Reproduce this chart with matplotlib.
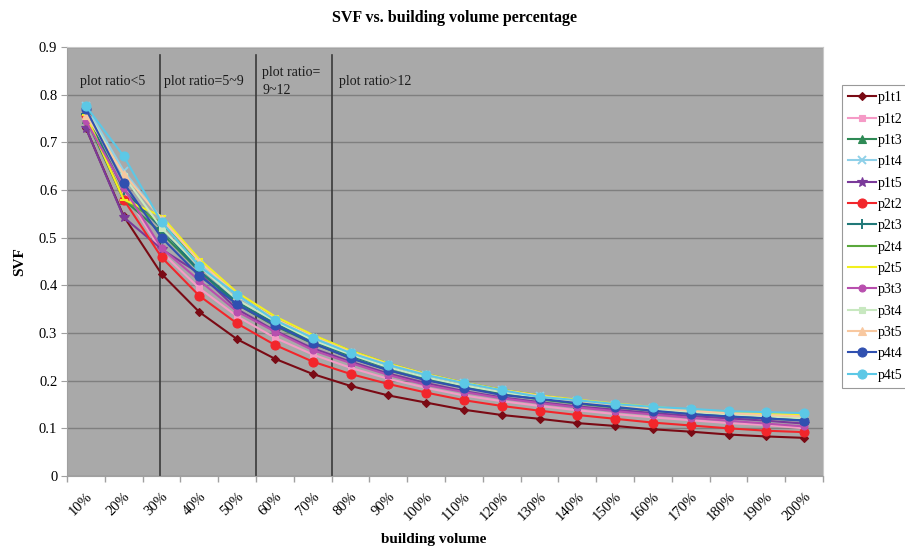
import matplotlib
matplotlib.use("Agg")
import matplotlib.pyplot as plt
from matplotlib.ticker import FixedLocator, NullFormatter

plt.rcParams['font.family'] = ['Liberation Serif', 'DejaVu Serif']

categories = ['10%', '20%', '30%', '40%', '50%', '60%', '70%', '80%', '90%', '100%',
              '110%', '120%', '130%', '140%', '150%', '160%', '170%', '180%', '190%', '200%']

p1t1 = [0.730, 0.545, 0.424, 0.344, 0.287, 0.246, 0.214, 0.189, 0.169, 0.154, 0.139, 0.128, 0.120, 0.111, 0.105, 0.098, 0.093, 0.087, 0.083, 0.080]
p1t2 = [0.750, 0.600, 0.470, 0.394, 0.335, 0.290, 0.255, 0.227, 0.204, 0.185, 0.169, 0.157, 0.147, 0.138, 0.130, 0.123, 0.117, 0.111, 0.107, 0.100]
p1t3 = [0.750, 0.580, 0.510, 0.430, 0.360, 0.315, 0.278, 0.248, 0.222, 0.202, 0.186, 0.172, 0.161, 0.152, 0.144, 0.137, 0.131, 0.125, 0.121, 0.117]
p1t4 = [0.776, 0.640, 0.540, 0.445, 0.378, 0.328, 0.290, 0.259, 0.233, 0.212, 0.195, 0.180, 0.168, 0.158, 0.150, 0.143, 0.138, 0.133, 0.130, 0.127]
p1t5 = [0.730, 0.543, 0.476, 0.425, 0.350, 0.305, 0.268, 0.240, 0.215, 0.195, 0.178, 0.165, 0.155, 0.146, 0.139, 0.132, 0.126, 0.121, 0.116, 0.110]
p2t2 = [0.757, 0.580, 0.459, 0.378, 0.320, 0.275, 0.240, 0.214, 0.193, 0.175, 0.159, 0.147, 0.137, 0.128, 0.120, 0.112, 0.106, 0.100, 0.095, 0.092]
p2t3 = [0.760, 0.600, 0.520, 0.430, 0.365, 0.320, 0.283, 0.252, 0.227, 0.206, 0.189, 0.175, 0.164, 0.155, 0.147, 0.140, 0.134, 0.128, 0.124, 0.120]
p2t4 = [0.757, 0.580, 0.530, 0.450, 0.383, 0.333, 0.295, 0.263, 0.236, 0.214, 0.196, 0.181, 0.169, 0.159, 0.151, 0.144, 0.138, 0.133, 0.129, 0.126]
p2t5 = [0.757, 0.580, 0.545, 0.455, 0.385, 0.335, 0.296, 0.263, 0.236, 0.214, 0.196, 0.181, 0.169, 0.160, 0.152, 0.145, 0.139, 0.134, 0.131, 0.128]
p3t3 = [0.745, 0.605, 0.478, 0.410, 0.345, 0.303, 0.264, 0.237, 0.212, 0.191, 0.176, 0.163, 0.153, 0.144, 0.136, 0.129, 0.122, 0.116, 0.110, 0.104]
p3t4 = [0.770, 0.630, 0.520, 0.440, 0.370, 0.325, 0.285, 0.255, 0.228, 0.207, 0.190, 0.176, 0.165, 0.155, 0.147, 0.140, 0.134, 0.129, 0.125, 0.121]
p3t5 = [0.757, 0.634, 0.540, 0.450, 0.380, 0.330, 0.292, 0.260, 0.234, 0.213, 0.195, 0.180, 0.168, 0.158, 0.150, 0.143, 0.137, 0.132, 0.128, 0.125]
p4t4 = [0.770, 0.615, 0.500, 0.420, 0.360, 0.317, 0.279, 0.247, 0.222, 0.201, 0.185, 0.170, 0.162, 0.153, 0.145, 0.137, 0.130, 0.125, 0.121, 0.116]
p4t5 = [0.776, 0.671, 0.533, 0.440, 0.380, 0.327, 0.290, 0.258, 0.233, 0.212, 0.195, 0.180, 0.166, 0.159, 0.151, 0.145, 0.141, 0.136, 0.134, 0.132]

series_names = ['p1t1', 'p1t2', 'p1t3', 'p1t4', 'p1t5', 'p2t2', 'p2t3', 'p2t4', 'p2t5',
                'p3t3', 'p3t4', 'p3t5', 'p4t4', 'p4t5']
series_values = [p1t1, p1t2, p1t3, p1t4, p1t5, p2t2, p2t3, p2t4, p2t5,
                 p3t3, p3t4, p3t5, p4t4, p4t5]
colors = ['#7A0A14', '#F59AC6', '#2E8A55', '#8FD0E8', '#7A3A9A', '#F2262B', '#207878',
          '#5AA83C', '#F2F01E', '#B84FAE', '#C8E8C0', '#F8C8A0', '#3050B0', '#5CC8E6']
markers = ['D', 's', '^', 'x', '*', 'o', '+', '_', '_', 'o', 's', '^', 'o', 'o']
msizes = [4.5, 5, 5.5, 6, 7, 6.5, 7, 6, 6, 5, 5, 5.5, 6.5, 6.5]

region_lines = [1.95, 4.5, 6.5]
region_labels = ['plot ratio<5', 'plot ratio=5~9', 'plot ratio=\n9~12', 'plot ratio>12']
region_label_x = [-0.15, 2.06, 4.67, 6.7]

fig = plt.figure(figsize=(9.05, 5.52), dpi=100)
ax = fig.add_axes([67/905, 76/552, 756/905, 429/552])
ax.set_facecolor('#A9A9A9')

x = list(range(len(categories)))
for name, vals, c, m, ms in zip(series_names, series_values, colors, markers, msizes):
    ax.plot(x, vals, color=c, marker=m, markersize=ms, linewidth=1.5,
            markeredgecolor=c, markeredgewidth=1.4 if m in ('x', '+', '_') else 0.8,
            label=name)

ax.set_xlim(-0.5, len(categories) - 0.5)
ax.set_ylim(0, 0.9)
ax.set_yticks([0, 0.1, 0.2, 0.3, 0.4, 0.5, 0.6, 0.7, 0.8, 0.9])
ax.set_yticklabels(['0', '0.1', '0.2', '0.3', '0.4', '0.5', '0.6', '0.7', '0.8', '0.9'], fontsize=10.5)
ax.yaxis.grid(True, color='#7F7F7F', linewidth=1.0)
ax.set_axisbelow(True)

ax.set_xticks(x)
ax.set_xticklabels(categories, rotation=45, ha='right', va='top', fontsize=10.5,
                   rotation_mode='anchor')
ax.tick_params(axis='x', which='major', length=0, pad=10)
ax.xaxis.set_minor_locator(FixedLocator([i - 0.5 for i in range(len(categories) + 1)]))
ax.xaxis.set_minor_formatter(NullFormatter())
ax.tick_params(axis='x', which='minor', length=4, color='#A0A0A0', width=1)
ax.tick_params(axis='y', length=4, color='#A0A0A0', pad=3)

for s in ['top', 'right']:
    ax.spines[s].set_color('#C8C8C8')
for s in ['left', 'bottom']:
    ax.spines[s].set_color('#A0A0A0')

for lx in region_lines:
    ax.plot([lx, lx], [0, 0.883], color='#3A3A3A', linewidth=1.2, zorder=1.5)

for lbl, lx in zip(region_labels, region_label_x):
    ax.text(lx, 0.827, lbl, fontsize=10, ha='left', va='center', color='#1A1A1A',
            linespacing=1.5)

fig.text(454/905, 1 - 18/552, 'SVF vs. building volume percentage', ha='center', va='center',
         fontsize=11.5, fontweight='bold')
fig.text(434/905, 1 - 540/552, 'building volume', ha='center', va='center',
         fontsize=11, fontweight='bold')
fig.text(20/905, 1 - 262/552, 'SVF', ha='center', va='center', rotation=90,
         fontsize=11, fontweight='bold')

leg = fig.legend(loc='upper left', bbox_to_anchor=(842/905, 1 - 85/552), fontsize=10,
                 frameon=True, fancybox=False, edgecolor='#808080', handlelength=2.0,
                 handletextpad=0.1, labelspacing=0.6, borderpad=0.45, borderaxespad=0)
leg.get_frame().set_linewidth(0.8)

fig.savefig('out.png', dpi=100)
